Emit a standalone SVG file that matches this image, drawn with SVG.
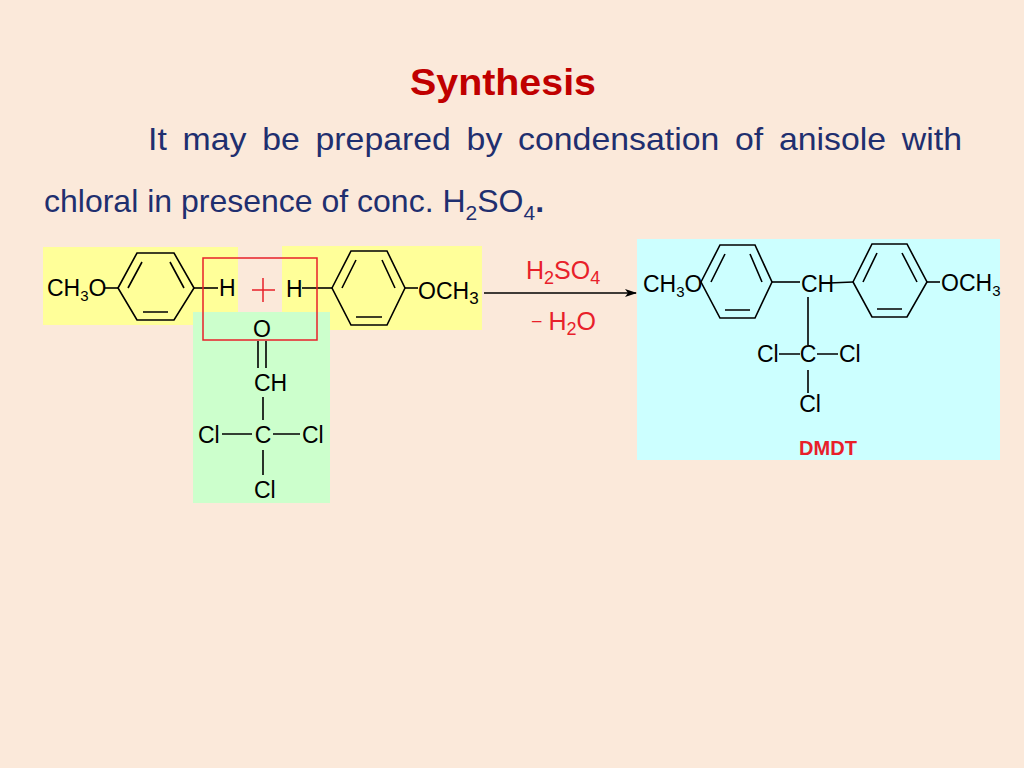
<svg xmlns="http://www.w3.org/2000/svg" width="1024" height="768" viewBox="0 0 1024 768">
<style>
text{font-family:"Liberation Sans",Arial,sans-serif}
.b{fill:#1F2F6F;font-size:32px}
.m{fill:#000;font-size:23px}
.r{fill:#E8202A;font-size:25px}
.s{stroke:#000;stroke-width:1.6;fill:none}
</style>
<defs><marker id="ah" markerWidth="12" markerHeight="8" refX="11" refY="4" orient="auto" markerUnits="userSpaceOnUse"><path d="M0,0 L12,4 L0,8 L3,4Z" fill="#000"/></marker></defs>
<rect width="1024" height="768" fill="#FBE9DA"/>
<text x="503" y="95" text-anchor="middle" font-size="37" font-weight="bold" fill="#C00000" textLength="186" lengthAdjust="spacingAndGlyphs">Synthesis</text>
<text class="b" x="148" y="150" textLength="814" lengthAdjust="spacingAndGlyphs" word-spacing="6">It may be prepared by condensation of anisole with</text>
<text class="b" x="44" y="212">chloral in presence of conc. H<tspan font-size="21" dy="8">2</tspan><tspan dy="-8">SO</tspan><tspan font-size="21" dy="8">4</tspan><tspan dy="-8" font-weight="bold">.</tspan></text>
<g id="anisole1">
<rect x="43" y="247" width="195" height="78" fill="#FFFF99"/>
<text class="m" x="47" y="296" font-size="20">CH<tspan font-size="15" dy="5">3</tspan><tspan dy="-5">O</tspan></text>
<line class="s" x1="104" y1="288" x2="118" y2="288"/>
<polygon class="s" points="118,288 137,253 174,253 194,288 174,320 137,320"/>
<path class="s" d="M128,288 L142,262 M170,262 L184,288 M143,312 L168,312"/>
<line class="s" x1="194" y1="288" x2="218" y2="288"/>
<text class="m" x="219" y="296" font-size="20">H</text>
</g>
<g id="anisole2">
<rect x="282" y="246" width="200" height="84" fill="#FFFF99"/>
<text class="m" x="286" y="297">H</text>
<line class="s" x1="302" y1="288" x2="332" y2="288"/>
<polygon class="s" points="332,288 351,251 387,251 405,288 387,325 351,325"/>
<path class="s" d="M342,288 L356,260 M382,260 L395,288 M356,317 L382,317"/>
<line class="s" x1="405" y1="288" x2="418" y2="288"/>
<text class="m" x="418" y="299">OCH<tspan font-size="17" dy="5">3</tspan></text>
</g>
<g id="chloral">
<rect x="193" y="312" width="137" height="191" fill="#CCFFCC"/>
<text class="m" x="262" y="337" text-anchor="middle">O</text>
<path class="s" d="M258,341 V368 M266,341 V368 M263,397 V420 M222,434 H252 M273,434 H300 M263,450 V475"/>
<text class="m" x="254" y="391">CH</text>
<text class="m" x="198" y="443">Cl</text>
<text class="m" x="263" y="443" text-anchor="middle">C</text>
<text class="m" x="302" y="443">Cl</text>
<text class="m" x="254" y="498">Cl</text>
</g>
<g id="highlight">
<rect x="203" y="258" width="114" height="82" fill="none" stroke="#E8202A" stroke-width="1.5"/>
<path d="M252,290 H275 M263,278 V302" stroke="#E8202A" stroke-width="1.5"/>
</g>
<g id="connectors">
<line class="s" x1="484" y1="293" x2="636" y2="293" marker-end="url(#ah)"/>
<text class="r" x="526" y="279">H<tspan font-size="18" dy="5">2</tspan><tspan dy="-5">SO</tspan><tspan font-size="18" dy="5">4</tspan></text>
<text class="r" x="532" y="330"><tspan font-size="17" dy="-4">–</tspan><tspan dy="4"> H</tspan><tspan font-size="18" dy="5">2</tspan><tspan dy="-5">O</tspan></text>
</g>
<g id="dmdt">
<rect x="637" y="239" width="363" height="221" fill="#CCFFFF"/>
<text class="m" x="643" y="292" font-size="20">CH<tspan font-size="15" dy="5">3</tspan><tspan dy="-5">O</tspan></text>
<polygon class="s" points="701,282 720,245 755,245 772,282 755,318 720,318"/>
<path class="s" d="M711,282 L725,254 M750,254 L762,282 M725,310 L750,310"/>
<line class="s" x1="772" y1="282" x2="800" y2="282"/>
<text class="m" x="801" y="292" font-size="20">CH</text>
<line class="s" x1="829" y1="283" x2="853" y2="282"/>
<polygon class="s" points="853,282 872,244 907,244 927,282 907,317 872,317"/>
<path class="s" d="M863,282 L877,253 M902,253 L917,282 M877,309 L902,309"/>
<line class="s" x1="927" y1="282" x2="940" y2="282"/>
<text class="m" x="941" y="291" font-size="20">OCH<tspan font-size="15" dy="5">3</tspan></text>
<path class="s" d="M808,297 V345 M779,354 H800 M817,354 H838 M808,370 V393"/>
<text class="m" x="757" y="362" font-size="20">Cl</text>
<text class="m" x="808" y="362" font-size="20" text-anchor="middle">C</text>
<text class="m" x="839" y="362" font-size="20">Cl</text>
<text class="m" x="810" y="412" font-size="20" text-anchor="middle">Cl</text>
<text x="828" y="455" text-anchor="middle" font-size="20" font-weight="bold" fill="#E8202A">DMDT</text>
</g>
</svg>
